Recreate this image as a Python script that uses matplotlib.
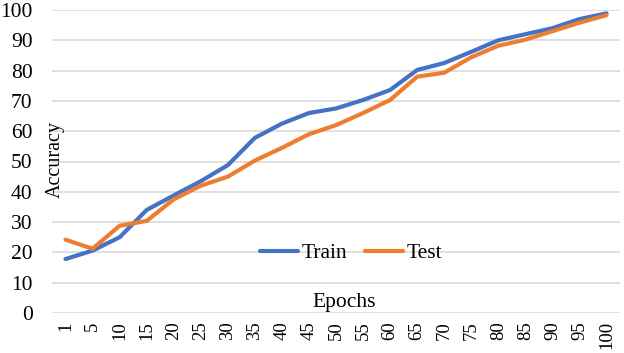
import numpy as np
import matplotlib
matplotlib.use('Agg')
import matplotlib.pyplot as plt

# data
epochs = ['1', '5', '10', '15', '20', '25', '30', '35', '40', '45', '50',
          '55', '60', '65', '70', '75', '80', '85', '90', '95', '100']
train = [17.8, 20.6, 25.0, 34.0, 38.8, 43.5, 48.8, 57.8, 62.5, 66.0, 67.5,
         70.3, 73.6, 80.2, 82.5, 86.2, 90.0, 92.0, 94.0, 97.0, 98.9]
test = [24.2, 21.2, 28.8, 30.4, 37.5, 42.0, 45.0, 50.3, 54.5, 59.0, 62.0,
        66.0, 70.3, 78.0, 79.3, 84.4, 88.2, 90.2, 93.0, 95.8, 98.3]

plt.rcParams['font.family'] = ['Liberation Serif', 'DejaVu Serif']

fig = plt.figure(figsize=(6.24, 3.53), dpi=100)
ax = fig.add_axes([52/624, 1 - 313/353, 568/624, 303/353])

x = np.arange(len(epochs))
ax.plot(x, train, color='#4472C4', lw=3.0, solid_capstyle='round', label='Train')
ax.plot(x, test, color='#ED7D31', lw=3.0, solid_capstyle='round', label='Test')

ax.set_xlim(-0.5, len(epochs) - 0.5)
ax.set_ylim(0, 100)
ax.set_yticks(range(0, 101, 10))
ax.set_xticks(x)
ax.set_xticklabels(epochs, rotation=90, fontsize=13.5)
ax.tick_params(axis='y', labelsize=15.5, length=0, pad=14)
ax.tick_params(axis='x', length=0, pad=6)
ax.grid(axis='y', color='#D9D9D9', lw=1.2)
ax.set_axisbelow(True)
for s in ax.spines.values():
    s.set_visible(False)

ax.text(0.005, 0.505, 'Accuracy', transform=ax.transAxes, rotation=90,
        ha='center', va='center', fontsize=14.5)
ax.text(0.515, 0.021, 'Epochs', transform=ax.transAxes,
        ha='center', va='baseline', fontsize=15.5)
ax.legend(loc='center', bbox_to_anchor=(0.527, 0.198), ncol=2, frameon=False,
          fontsize=15.5, handlelength=1.75, handletextpad=0.2, columnspacing=0.8)

fig.savefig('out.png', dpi=100)
